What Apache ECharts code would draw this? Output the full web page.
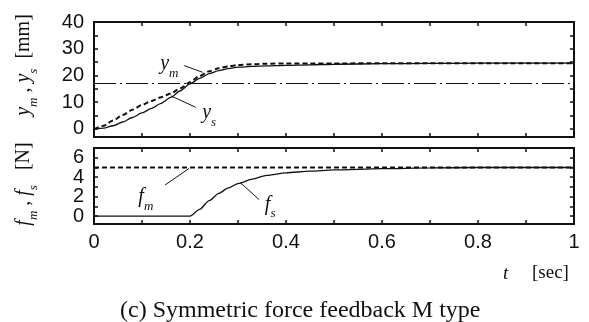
<!DOCTYPE html>
<html>
<head>
<meta charset="utf-8">
<script src="https://cdn.jsdelivr.net/npm/echarts@6/dist/echarts.min.js"></script>
<style>html,body{margin:0;padding:0;background:#fff}#c{width:589px;height:322px}</style>
</head>
<body>
<div id="c"></div>
<script>
// ---- data ----
const tPos = [0, 0.02, 0.04, 0.06, 0.08, 0.1, 0.12, 0.14, 0.16, 0.18, 0.2, 0.22, 0.24, 0.26, 0.28, 0.3, 0.33, 0.36, 0.4, 0.45, 0.5, 0.6, 0.7, 0.8, 0.9, 1.0];
const ym = [0, 1.2, 3.2, 5.2, 7.2, 9.0, 10.5, 11.9, 13.3, 15.2, 17.5, 19.8, 21.6, 22.7, 23.4, 23.9, 24.2, 24.4, 24.5, 24.5, 24.5, 24.6, 24.6, 24.6, 24.6, 24.6];
const ys = [0, 0.3, 1.2, 2.6, 4.3, 6.0, 7.7, 9.6, 11.8, 14.3, 16.9, 18.9, 20.7, 21.8, 22.6, 23.1, 23.4, 23.6, 23.8, 24.0, 24.2, 24.4, 24.5, 24.6, 24.6, 24.6];
const refLevel = 17;
const tForce = [0, 0.2, 0.22, 0.24, 0.26, 0.28, 0.3, 0.33, 0.36, 0.4, 0.45, 0.5, 0.6, 0.7, 0.8, 0.9, 1.0];
const fs = [0, 0, 0.7, 1.6, 2.35, 2.9, 3.35, 3.8, 4.2, 4.45, 4.62, 4.75, 4.88, 4.95, 5.0, 5.0, 5.0];
const fmLevel = 5;
const xLabels = [0, 0.2, 0.4, 0.6, 0.8, 1];
const xTicks = [0, 0.1, 0.2, 0.3, 0.4, 0.5, 0.6, 0.7, 0.8, 0.9, 1];
const posLabels = [0, 10, 20, 30, 40];
const posTicks = [0, 5, 10, 15, 20, 25, 30, 35, 40];
const forceLabelsA = [0, 4];
const forceLabelsB = [2, 6];
const forceTicks = [0, 1, 2, 3, 4, 5, 6];

// ---- styles ----
const SANS = 'Liberation Sans';
const SERIF = 'Liberation Serif';
const black = '#111';
const rich = {
  i: {fontFamily: SERIF, fontStyle: 'italic', fontSize: 20, fill: black, color: black, lineHeight: 22},
  s: {fontFamily: SERIF, fontStyle: 'italic', fontSize: 13, fill: black, color: black, verticalAlign: 'bottom', lineHeight: 22, padding: [0, 0, -5, 0]},
  n: {fontFamily: SERIF, fontSize: 20, fill: black, color: black, lineHeight: 22}
};
const pairs = (xs, vs) => xs.map((x, i) => [x, vs[i]]);

function xAx(grid, pos, labels) {
  return {
    type: 'value', gridIndex: grid, position: pos, min: 0, max: 1,
    axisLine: {show: true, onZero: false, lineStyle: {color: black, width: 2}},
    axisTick: {show: true, inside: true, length: 4, customValues: xTicks, lineStyle: {color: black, width: 1.5}},
    axisLabel: {show: labels, customValues: xLabels, showMinLabel: true, showMaxLabel: true, fontFamily: SANS, fontSize: 20, color: black, margin: 8},
    splitLine: {show: false}
  };
}
function yAx(grid, pos, min, max, labels, ticks, bare) {
  return {
    type: 'value', gridIndex: grid, position: pos, min: min, max: max,
    axisLine: {show: !bare, onZero: false, lineStyle: {color: black, width: 2}},
    axisTick: {show: !bare, inside: true, length: 4, customValues: ticks, lineStyle: {color: black, width: 1.5}},
    axisLabel: {show: pos === 'left', customValues: labels, showMinLabel: true, showMaxLabel: true, hideOverlap: false,
      fontFamily: SANS, fontSize: 20, color: black, margin: 10},
    splitLine: {show: false}
  };
}
function note(coord, text) {
  return {coord: coord, symbol: 'circle', symbolSize: 0, label: {show: true, position: 'inside', formatter: text, rich: rich}};
}
function leader(a, b) {
  return [{coord: a}, {coord: b}];
}
const leaderStyle = {symbol: ['none', 'none'], silent: true, label: {show: false}, lineStyle: {color: black, width: 1, type: 'solid'}};

const chart = echarts.init(document.getElementById('c'), null, {renderer: 'canvas'});
chart.setOption({
  animation: false,
  backgroundColor: '#fff',
  grid: [
    {left: 94, right: 15, top: 22, height: 115},
    {left: 94, right: 15, top: 148, height: 76}
  ],
  xAxis: [xAx(0, 'bottom', false), xAx(0, 'top', false), xAx(1, 'bottom', true), xAx(1, 'top', false)],
  yAxis: [
    yAx(0, 'left', -3, 40, posLabels, posTicks),
    yAx(0, 'right', -3, 40, posLabels, posTicks),
    yAx(1, 'left', -0.8, 7, forceLabelsA, forceTicks),
    yAx(1, 'right', -0.8, 7, forceLabelsA, forceTicks),
    yAx(1, 'left', -0.8, 7, forceLabelsB, forceTicks, true)
  ],
  series: [
    {type: 'line', xAxisIndex: 0, yAxisIndex: 0, data: pairs(tPos, ym), showSymbol: false, smooth: 0.25, smoothMonotone: 'x',
     lineStyle: {color: black, width: 2, type: [5, 3]},
     markPoint: {data: [note([0.157, 24.3], '{i|y}{s|m}')]},
     markLine: Object.assign({data: [leader([0.188, 23.7], [0.226, 21.2])]}, leaderStyle)},
    {type: 'line', xAxisIndex: 0, yAxisIndex: 0, data: pairs(tPos, ys), showSymbol: false, smooth: 0.25, smoothMonotone: 'x',
     lineStyle: {color: black, width: 1.3},
     markPoint: {data: [note([0.24, 6.0], '{i|y}{s|s}')]},
     markLine: Object.assign({data: [leader([0.160, 12.4], [0.212, 8.1])]}, leaderStyle)},
    {type: 'line', xAxisIndex: 0, yAxisIndex: 0, data: [[0, refLevel], [1, refLevel]], showSymbol: false,
     lineStyle: {color: black, width: 1, type: [22, 4, 2, 4]}},
    {type: 'line', xAxisIndex: 2, yAxisIndex: 2, data: [[0, fmLevel], [1, fmLevel]], showSymbol: false,
     lineStyle: {color: black, width: 2, type: [5, 3]},
     markPoint: {data: [note([0.108, 2.0], '{i|f}{s|m}')]},
     markLine: Object.assign({data: [leader([0.148, 3.2], [0.198, 4.9])]}, leaderStyle)},
    {type: 'line', xAxisIndex: 2, yAxisIndex: 2, data: pairs(tForce, fs), showSymbol: false, smooth: 0.25, smoothMonotone: 'x',
     lineStyle: {color: black, width: 1.3},
     markPoint: {data: [note([0.367, 1.2], '{i|f}{s|s}')]},
     markLine: Object.assign({data: [leader([0.306, 3.4], [0.344, 1.7])]}, leaderStyle)}
  ],
  graphic: [
    {type: 'text', x: 24, y: 65, rotation: Math.PI / 2,
     style: {text: '{i|y}{s|m}{n| , }{i|y}{s|s}{n|  [mm]}', rich: rich, align: 'center', verticalAlign: 'middle'}},
    {type: 'text', x: 24, y: 184, rotation: Math.PI / 2,
     style: {text: '{i|f}{s|m}{n| , }{i|f}{s|s}{n|   [N]}', rich: rich, align: 'center', verticalAlign: 'middle'}},
    {type: 'text', left: 503, top: 264, style: {text: 't', fontFamily: SERIF, fontStyle: 'italic', fontSize: 19, fill: black}},
    {type: 'text', left: 532, top: 264, style: {text: '[sec]', fontFamily: SERIF, fontSize: 19, fill: black}},
    {type: 'text', left: 120, top: 299, style: {text: '(c) Symmetric force feedback M type', fontFamily: SERIF, fontSize: 24, fill: black}}
  ]
});
</script>
</body>
</html>
